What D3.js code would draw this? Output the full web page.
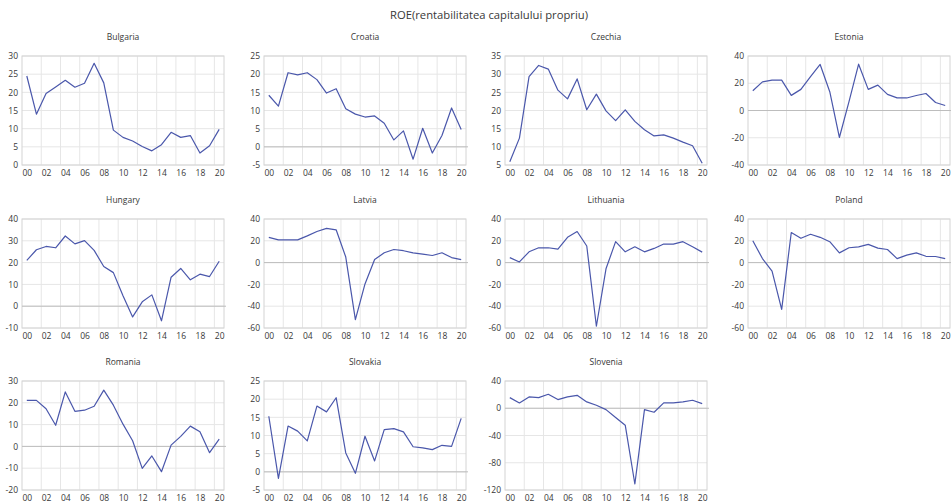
<!DOCTYPE html>
<html>
<head>
<meta charset="utf-8">
<script src="https://cdn.jsdelivr.net/npm/d3@7"></script>
<style>
  body { margin: 0; background: #fff; }
  svg text { font-family: "Open Sans", "DejaVu Sans", sans-serif; fill: #383838; }
</style>
</head>
<body>
<svg id="chart" width="951" height="504"></svg>
<script>
// Return on equity by country, 2000-2020 (%)
const years = d3.range(2000, 2021);
const xTickYears = d3.range(2000, 2021, 2);

const countries = ["Bulgaria", "Croatia", "Czechia", "Estonia",
                   "Hungary", "Latvia", "Lithuania", "Poland",
                   "Romania", "Slovakia", "Slovenia"];

const bulgaria  = [24.5, 14.0, 19.7, 21.5, 23.3, 21.4, 22.5, 28.0, 22.6, 9.6, 7.6, 6.6, 5.1, 3.9, 5.6, 9.0, 7.6, 8.1, 3.3, 5.3, 9.8];
const croatia   = [14.2, 11.2, 20.4, 19.8, 20.4, 18.5, 14.8, 16.0, 10.5, 9.0, 8.2, 8.5, 6.5, 1.9, 4.4, -3.4, 5.1, -1.7, 3.1, 10.7, 4.8];
const czechia   = [5.9, 12.4, 29.3, 32.4, 31.4, 25.6, 23.2, 28.7, 20.2, 24.5, 19.9, 17.2, 20.2, 17.0, 14.7, 13.0, 13.3, 12.4, 11.3, 10.3, 5.5];
const estonia   = [14.5, 21.0, 22.3, 22.3, 11.1, 15.5, 24.8, 33.8, 13.8, -19.8, 6.5, 34.0, 15.5, 18.6, 11.8, 9.3, 9.2, 11.0, 12.5, 5.9, 3.7];
const hungary   = [21.0, 25.9, 27.4, 26.8, 32.2, 28.6, 30.1, 25.6, 18.2, 15.4, 4.8, -4.9, 2.0, 5.2, -6.7, 13.3, 17.3, 12.1, 14.7, 13.6, 20.6];
const latvia    = [23.2, 20.8, 20.8, 20.8, 24.5, 28.5, 31.4, 30.1, 5.1, -52.3, -19.6, 2.8, 9.0, 12.0, 10.9, 9.0, 7.7, 6.5, 9.0, 4.6, 2.8];
const lithuania = [4.6, 0.6, 9.9, 13.6, 13.6, 12.4, 23.2, 28.5, 15.2, -58.4, -5.7, 19.2, 9.9, 14.5, 9.9, 13.0, 17.0, 17.0, 19.2, 14.5, 9.6];
const poland    = [20.1, 3.7, -7.8, -42.9, 27.6, 22.3, 26.0, 23.2, 19.2, 8.9, 13.6, 14.5, 16.7, 13.3, 12.0, 3.7, 6.8, 8.9, 5.8, 5.6, 3.7];
const romania   = [21.1, 21.1, 17.3, 9.7, 25.0, 16.1, 16.6, 18.4, 25.8, 18.9, 10.2, 2.6, -10.1, -4.4, -11.6, 0.6, 4.6, 9.3, 6.7, -2.9, 3.3];
const slovakia  = [15.3, -1.8, 12.6, 11.2, 8.5, 18.1, 16.5, 20.4, 5.2, -0.4, 9.8, 3.0, 11.6, 11.9, 11.0, 6.9, 6.6, 6.1, 7.3, 7.0, 14.7];
const slovenia  = [15.6, 7.8, 16.6, 15.6, 20.5, 12.7, 16.6, 19.0, 9.3, 4.4, -2.0, -13.7, -24.9, -111.2, -2.0, -5.9, 7.8, 7.8, 9.3, 11.7, 6.8];

// y-axis tick values for each panel
const bulgariaTicks  = [0, 5, 10, 15, 20, 25, 30];
const croatiaTicks   = [-5, 0, 5, 10, 15, 20, 25];
const czechiaTicks   = [5, 10, 15, 20, 25, 30, 35];
const estoniaTicks   = [-40, -20, 0, 20, 40];
const hungaryTicks   = [-10, 0, 10, 20, 30, 40];
const latviaTicks    = [-60, -40, -20, 0, 20, 40];
const lithuaniaTicks = [-60, -40, -20, 0, 20, 40];
const polandTicks    = [-60, -40, -20, 0, 20, 40];
const romaniaTicks   = [-20, -10, 0, 10, 20, 30];
const slovakiaTicks  = [-5, 0, 5, 10, 15, 20, 25];
const sloveniaTicks  = [-120, -80, -40, 0, 40];

const seriesList = [bulgaria, croatia, czechia, estonia, hungary, latvia,
                    lithuania, poland, romania, slovakia, slovenia];
const tickList = [bulgariaTicks, croatiaTicks, czechiaTicks, estoniaTicks,
                  hungaryTicks, latviaTicks, lithuaniaTicks, polandTicks,
                  romaniaTicks, slovakiaTicks, sloveniaTicks];

const title = "ROE(rentabilitatea capitalului propriu)";

// ---- layout ----
const svg = d3.select("#chart");
const colLeft = [22, 264, 505, 748];
const rowTop = [56, 219, 381];
const plotW = 202, plotH = 109;
const lineColor = "#4a57ab";

svg.append("text")
  .attr("x", 489).attr("y", 19)
  .attr("text-anchor", "middle")
  .attr("textLength", 198)
  .attr("lengthAdjust", "spacingAndGlyphs")
  .style("font-size", "11.5px")
  .text(title);

countries.forEach((name, i) => {
  const values = seriesList[i];
  const ticks = tickList[i];
  const g = svg.append("g")
    .attr("transform", `translate(${colLeft[i % 4]},${rowTop[Math.floor(i / 4)]})`);

  const x = d3.scalePoint().domain(years).range([0, plotW]).padding(0.5);
  const step = x.step();
  const y = d3.scaleLinear().domain(d3.extent(ticks)).range([plotH, 0]);

  // horizontal gridlines
  g.selectAll(".hgrid").data(ticks).join("line")
    .attr("x1", 0).attr("x2", plotW)
    .attr("y1", d => y(d)).attr("y2", d => y(d))
    .attr("stroke", "#e6e6e6").attr("stroke-width", 1);

  // vertical gridlines between category pairs
  const vYears = years.filter((d, k) => k % 2 === 1 && k < years.length - 1);
  g.selectAll(".vgrid").data(vYears).join("line")
    .attr("x1", d => x(d) + step / 2).attr("x2", d => x(d) + step / 2)
    .attr("y1", 0).attr("y2", plotH)
    .attr("stroke", "#e6e6e6").attr("stroke-width", 1);

  // plot frame
  g.append("rect")
    .attr("x", 0).attr("y", 0).attr("width", plotW).attr("height", plotH)
    .attr("fill", "none").attr("stroke", "#d4d4d4").attr("stroke-width", 1);

  // zero line
  if (y.domain()[0] < 0) {
    g.append("line")
      .attr("x1", 0).attr("x2", plotW + 2)
      .attr("y1", y(0)).attr("y2", y(0))
      .attr("stroke", "#bdbdbd").attr("stroke-width", 1);
  }

  // series line
  g.append("path")
    .datum(values)
    .attr("fill", "none")
    .attr("stroke", lineColor)
    .attr("stroke-width", 1.2)
    .attr("stroke-linejoin", "round")
    .attr("d", d3.line().x((d, k) => x(years[k])).y(d => y(d)));

  // axes (plain hyphen for negative labels)
  const yAxis = g.append("g")
    .call(d3.axisLeft(y).tickValues(ticks).tickFormat(d => String(d))
      .tickSize(0).tickPadding(4));
  yAxis.select(".domain").remove();
  yAxis.selectAll("text").style("font-size", "8.5px").attr("fill", "#383838");

  const xAxis = g.append("g")
    .attr("transform", `translate(0,${plotH})`)
    .call(d3.axisBottom(x).tickValues(xTickYears)
      .tickFormat(d => String(d % 100).padStart(2, "0"))
      .tickSize(0).tickPadding(5));
  xAxis.select(".domain").remove();
  xAxis.selectAll("text").style("font-size", "8.5px").attr("fill", "#383838");

  // panel title
  g.append("text")
    .attr("x", plotW / 2).attr("y", -16)
    .attr("text-anchor", "middle")
    .style("font-size", "8.5px")
    .text(name);
});
</script>
</body>
</html>
